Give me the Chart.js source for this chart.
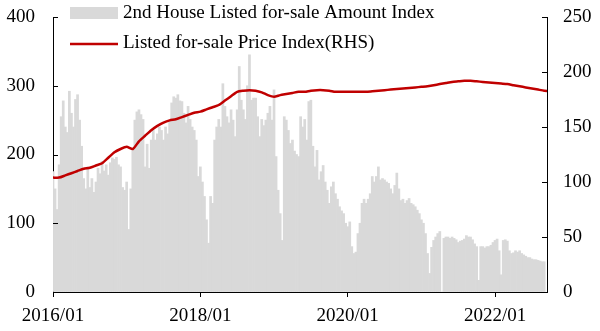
<!DOCTYPE html>
<html>
<head>
<meta charset="utf-8">
<script src="https://cdn.jsdelivr.net/npm/chart.js@4.4.1/dist/chart.umd.min.js"></script>
<style>
html,body{margin:0;padding:0;background:#fff;}
#wrap{width:600px;height:331px;position:relative;}
</style>
</head>
<body>
<div id="wrap"><canvas id="c" width="600" height="331"></canvas></div>
<script>
// 2nd House Listed for-sale Amount Index: three readings per month (1st, 11th, 21st), from 2016/01
const amountIndex = [
 175,150,120, 185,255,278, 240,232,292, 260,240,280, 287,250,212, 165,150,182,
 152,165,145, 160,180,172, 190,176,185, 170,188,195, 193,196,185, 182,152,148,
 160,91,150, 206,250,262, 265,258,251, 182,215,180, 221,235,221, 230,240,235,
 221,240,230, 250,275,284, 282,287,278, 277,260,246, 270,251,240, 235,221,168,
 182,160,139, 105,71,139, 129,221,240, 251,240,303, 270,255,246, 265,250,226,
 265,328,279, 265,251,300, 345,279,282, 282,255,226, 251,242,250, 260,270,250,
 294,197,148, 114,75,255, 250,235,216, 221,205,200, 197,255,240, 251,221,277,
 279,212,182, 206,163,175, 184,160,148, 129,153,160, 143,135,124, 118,114,100,
 95,102,66, 56,58,85, 100,129,135, 129,135,143, 168,160,168, 182,163,165,
 163,160,158, 150,143,155, 173,150,133, 135,129,133, 136,129,127, 124,119,114,
 105,100,85, 56,27,65, 75,80,85, 88,0,78, 80,80,78, 80,78,76,
 72,74,75, 77,82,80, 80,76,70, 66,17,66, 66,64,66, 66,68,72,
 75,77,60, 25,75,76, 74,60,56, 57,60,58, 60,56,54, 52,50,50,
 48,47,47, 46,45,44, 44
];
// Listed for-sale Price Index (RHS): monthly, from 2016/01
const priceIndex = [
 104,104,106,108,110,112,113,115,117,122,127,130,
 132,130,137,142,147,151,154,156,157,159,161,163,
 164,166,168,170,174,178,182,183,183.5,183,181.5,179,
 177.5,179,180,181,182,182,183,183.5,183.5,183,182,182,
 182,182,182,182,182.5,183,183.5,184,184.5,185,185.5,186,
 186.5,187,188,189,190,191,191.5,192,192,191.5,191,190.5,
 190,189.5,189,188,187,186,185,184,183,182.5
];
const xTickMonths = [0, 24, 48, 72];
const xTickLabels = ['2016/01', '2018/01', '2020/01', '2022/01'];
const seriesLabels = ['2nd House Listed for-sale Amount Index', 'Listed for-sale Price Index(RHS)'];

const BAR_COLOR = '#D9D9D9';
const LINE_COLOR = '#C00000';
const FONT = "'Liberation Serif', 'Times New Roman', serif";

Chart.defaults.font.family = FONT;
Chart.defaults.font.size = 19;
Chart.defaults.color = '#000';

const barData = amountIndex.map((v, i) => ({ x: i / 3, y: v }));
const lineData = priceIndex.map((v, m) => ({ x: m, y: v }));

const innerTicks = {
  id: 'innerTicks',
  afterDraw(chart) {
    const ctx = chart.ctx;
    ctx.save();
    ctx.strokeStyle = '#000';
    ctx.lineWidth = 1;
    ['y', 'y2'].forEach(id => {
      const s = chart.scales[id];
      const left = id === 'y';
      const x0 = left ? chart.chartArea.left : chart.chartArea.right;
      s.ticks.forEach(t => {
        const py = Math.round(s.getPixelForValue(t.value)) + 0.5;
        ctx.beginPath();
        ctx.moveTo(x0, py);
        ctx.lineTo(left ? x0 + 5 : x0 - 5, py);
        ctx.stroke();
      });
    });
    ctx.restore();
  }
};

const legendPlugin = {
  id: 'customLegend',
  afterDraw(chart) {
    const ctx = chart.ctx;
    ctx.save();
    ctx.font = '19px ' + FONT;
    ctx.textBaseline = 'middle';
    ctx.textAlign = 'left';
    ctx.fillStyle = BAR_COLOR;
    ctx.fillRect(70, 7, 48, 12);
    ctx.fillStyle = '#000';
    ctx.fillText(chart.data.datasets[1].label, 123, 13);
    ctx.strokeStyle = LINE_COLOR;
    ctx.lineWidth = 2.5;
    ctx.beginPath();
    ctx.moveTo(70, 44);
    ctx.lineTo(118, 44);
    ctx.stroke();
    ctx.fillText(chart.data.datasets[0].label, 123, 43);
    ctx.restore();
  }
};

const fixVertical = s => { s.width = 53; s.paddingTop = 0; s.paddingBottom = 0; };

new Chart(document.getElementById('c'), {
  type: 'bar',
  data: {
    datasets: [
      {
        type: 'line',
        label: seriesLabels[1],
        data: lineData,
        yAxisID: 'y2',
        borderColor: LINE_COLOR,
        borderWidth: 2.5,
        pointRadius: 0,
        tension: 0.2,
        fill: false
      },
      {
        type: 'bar',
        label: seriesLabels[0],
        data: barData,
        yAxisID: 'y',
        backgroundColor: BAR_COLOR,
        borderWidth: 0,
        barPercentage: 1,
        categoryPercentage: 1,
        grouped: false
      }
    ]
  },
  options: {
    responsive: false,
    animation: false,
    events: [],
    layout: { padding: { top: 17, left: 0, right: 0, bottom: 0 } },
    plugins: { legend: { display: false }, tooltip: { enabled: false } },
    scales: {
      x: {
        type: 'linear',
        offset: false,
        min: 0,
        max: 80.46,
        afterBuildTicks: s => { s.ticks = xTickMonths.map(v => ({ value: v })); },
        afterFit: s => { s.height = 39; },
        ticks: {
          autoSkip: false,
          maxRotation: 0,
          padding: 8,
          callback: v => { const k = xTickMonths.indexOf(v); return k >= 0 ? xTickLabels[k] : null; }
        },
        grid: { display: true, offset: false, drawOnChartArea: false, drawTicks: true, tickLength: 5, color: '#000' },
        border: { display: true, color: '#000', width: 1 }
      },
      y: {
        position: 'left',
        min: 0, max: 400,
        ticks: { stepSize: 100, padding: 18 },
        afterFit: fixVertical,
        grid: { display: true, drawOnChartArea: false, drawTicks: false },
        border: { display: true, color: '#000', width: 1 }
      },
      y2: {
        position: 'right',
        min: 0, max: 250,
        ticks: { stepSize: 50, padding: 16 },
        afterFit: fixVertical,
        grid: { display: true, drawOnChartArea: false, drawTicks: false },
        border: { display: true, color: '#000', width: 1 }
      }
    }
  },
  plugins: [innerTicks, legendPlugin]
});
</script>
</body>
</html>
